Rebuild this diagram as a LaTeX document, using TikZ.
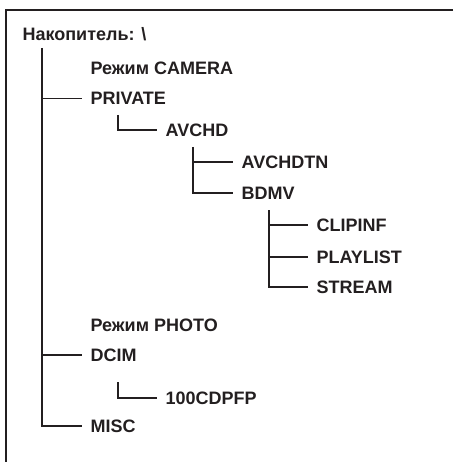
\documentclass[tikz,border=0pt]{standalone}
\usepackage{fontspec}
\setmainfont{Liberation Sans}
\usetikzlibrary{calc}
\usetikzlibrary{positioning}

\definecolor{ink}{RGB}{35,31,32}

\begin{document}
\begin{tikzpicture}[x=1pt, y=1pt, line width=1.2pt, color=ink,
    folder/.style={anchor=west, inner xsep=8pt, inner ysep=0pt,
        text height=12.9pt, text depth=0pt,
        font=\fontsize{18}{20}\selectfont\bfseries}]
            \def\d{36}
            \useasboundingbox (0,0) rectangle (453,-462);

            % Frame
            \coordinate (topright) at (453,-10);
            \coordinate (corner) at (6,-10);
            \coordinate (bottomleft) at (6,-462);
            \draw[line width=1.4pt] (topright) -- (corner) -- (bottomleft);

            % Camera branch
            \node[folder] (title) at (14,-34.5) {Накопитель: \textbackslash};
            \node[folder] (camera) at (82,-68) {Режим CAMERA};
            \node[folder] (private) at ($(camera.west) + (0,-30.5)$) {PRIVATE};
            \node[folder] (avchd) at ($(private.west) + (75,-31.5)$) {AVCHD};
            \node[folder] (avchdtn) at ($(avchd.west) + (76,-32)$) {AVCHDTN};
            \node[folder] (bdmv) at ($(avchdtn.west) + (0,-31)$) {BDMV};
            \node[folder] (clipinf) at ($(bdmv.west) + (75,-32)$) {CLIPINF};
            \node[folder] (playlist) at ($(clipinf.west) + (0,-32)$) {PLAYLIST};
            \node[folder] (stream) at ($(playlist.west) + (0,-30)$) {STREAM};

            % Photo branch
            \node[folder] (photo) at (82,-325.5) {Режим PHOTO};
            \node[folder] (dcim) at ($(photo.west) + (0,-29.5)$) {DCIM};
            \node[folder] (cdpfp) at ($(dcim.west) + (75,-43)$) {100CDPFP};
            \node[folder] (misc) at ($(dcim.west) + (0,-71)$) {MISC};

            % Stems
            \coordinate (titlestem) at ($(title.west) + (28,-13.5)$);
            \coordinate (privatestem) at ($(private.west) + (\d,-16.5)$);
            \coordinate (avchdstem) at ($(avchd.west) + (\d,-17)$);
            \coordinate (bdmvstem) at ($(bdmv.west) + (\d,-17)$);
            \coordinate (dcimstem) at ($(dcim.west) + (\d,-27)$);

            \draw (titlestem) |- (misc.west);
            \draw (titlestem |- private.west) -- (private.west);
            \draw (titlestem |- dcim.west) -- (dcim.west);
            \draw (privatestem) |- (avchd.west);
            \draw (avchdstem) |- (bdmv.west);
            \draw (avchdstem |- avchdtn.west) -- (avchdtn.west);
            \draw (bdmvstem) |- (stream.west);
            \draw (bdmvstem |- clipinf.west) -- (clipinf.west);
            \draw (bdmvstem |- playlist.west) -- (playlist.west);
            \draw (dcimstem) |- (cdpfp.west);
        \end{tikzpicture}
\end{document}
